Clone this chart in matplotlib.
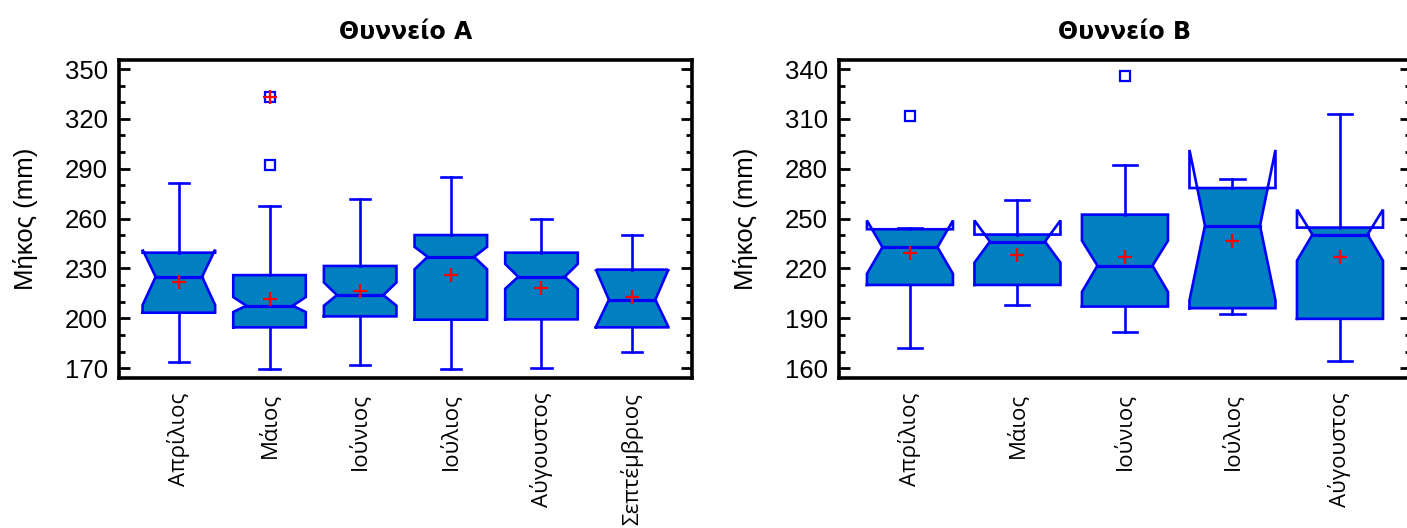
import numpy as np
import matplotlib
matplotlib.use("Agg")
import matplotlib.pyplot as plt
from matplotlib.ticker import MultipleLocator

# ---------------------------------------------------------------------------
# Data
# ---------------------------------------------------------------------------
months_a = ["Απρίλιος", "Μάιος", "Ιούνιος", "Ιούλιος", "Αύγουστος", "Σεπτέμβριος"]
q1_a = [203.4, 194.6, 201.2, 199.2, 199.4, 194.6]
med_a = [225.0, 207.6, 214.0, 237.0, 225.0, 211.2]
q3_a = [239.5, 226.0, 231.5, 250.1, 239.5, 229.3]
whislo_a = [174.0, 169.5, 172.1, 169.5, 170.2, 179.5]
whishi_a = [281.4, 267.6, 271.8, 285.0, 259.7, 250.3]
mean_a = [221.6, 211.8, 216.6, 225.9, 218.2, 213.0]
cilo_a = [208.0, 203.8, 207.6, 229.5, 217.8, 194.8]
cihi_a = [241.3, 212.8, 221.6, 243.0, 232.7, 229.4]
outliers_a = [[], [292.2, 333.4], [], [], [], []]
far_out_a = [[], [333.4], [], [], [], []]

months_b = ["Απρίλιος", "Μάιος", "Ιούνιος", "Ιούλιος", "Αύγουστος"]
q1_b = [210.1, 210.1, 197.1, 196.1, 189.7]
med_b = [232.8, 236.2, 221.7, 245.8, 240.4]
q3_b = [243.6, 240.4, 252.4, 268.4, 244.6]
whislo_b = [172.2, 198.1, 181.8, 192.7, 164.4]
whishi_b = [244.6, 261.0, 282.5, 274.0, 312.9]
mean_b = [229.5, 228.3, 227.1, 236.7, 227.1]
cilo_b = [216.8, 223.5, 205.9, 200.8, 224.7]
cihi_b = [248.9, 248.9, 236.7, 291.3, 255.4]
outliers_b = [[311.7], [], [335.8], [], []]
far_out_b = [[], [], [], [], []]

FILL = "#0080c0"
EDGE = "#0000ff"
BOX_W = 0.8
WAIST = 0.64      # notch waist as fraction of box width
CAP = 0.28        # cap width as fraction of box width
LW = 1.9

plt.rcParams["font.family"] = ["Liberation Sans", "DejaVu Sans"]


def notched_box(ax, x, q1, med, q3, clo, chi, lo, hi, mean):
    bw = BOX_W / 2
    ww = bw * WAIST

    def half_w(y):
        if clo <= y <= med and med > clo:
            return ww + (bw - ww) * (med - y) / (med - clo)
        if med <= y <= chi and chi > med:
            return ww + (bw - ww) * (y - med) / (chi - med)
        return bw

    # filled body: the notch shape cut to [q1, q3]
    ys = sorted(set([q1, med, q3] + [c for c in (clo, chi) if q1 < c < q3]))
    px = [x + half_w(y) for y in ys] + [x - half_w(y) for y in ys[::-1]]
    py = ys + ys[::-1]
    ax.fill(px, py, color=FILL, lw=0, zorder=2)

    # outline, notch flares included
    ox = [x - bw, x + bw, x + bw, x + ww, x + bw, x + bw,
          x - bw, x - bw, x - ww, x - bw, x - bw]
    oy = [q1, q1, clo, med, chi, q3, q3, chi, med, clo, q1]
    ax.plot(ox, oy, color=EDGE, lw=LW, zorder=3, solid_joinstyle="miter")
    ax.plot([x - ww, x + ww], [med, med], color=EDGE, lw=LW + 0.4, zorder=3)

    # whiskers and caps
    cw = BOX_W * CAP / 2
    ax.plot([x, x], [q3, hi], color=EDGE, lw=LW, zorder=3)
    ax.plot([x, x], [q1, lo], color=EDGE, lw=LW, zorder=3)
    ax.plot([x - cw, x + cw], [hi, hi], color=EDGE, lw=LW, zorder=3)
    ax.plot([x - cw, x + cw], [lo, lo], color=EDGE, lw=LW, zorder=3)

    ax.plot([x], [mean], marker="+", color="red", ms=10, mew=1.6, zorder=4)


def panel(ax, title, months, q1, med, q3, lo, hi, mean, clo, chi,
          outliers, far_out, ylim, yticks):
    pos = np.arange(1, len(months) + 1)
    for i, x in enumerate(pos):
        notched_box(ax, x, q1[i], med[i], q3[i], clo[i], chi[i],
                    lo[i], hi[i], mean[i])
        if outliers[i]:
            ax.plot([x] * len(outliers[i]), outliers[i], ls="none", marker="s",
                    ms=6.5, mfc="none", mec=EDGE, mew=1.6, zorder=4)
        if far_out[i]:
            ax.plot([x] * len(far_out[i]), far_out[i], ls="none", marker="+",
                    ms=10, color="red", mew=1.6, zorder=5)

    ax.set_xlim(pos[0] - 0.66, pos[-1] + 0.66)
    ax.set_ylim(*ylim)
    ax.set_yticks(yticks)
    ax.yaxis.set_minor_locator(MultipleLocator(10))
    ax.set_xticks(pos)
    ax.set_xticklabels(months, rotation=90, family=["Open Sans", "DejaVu Sans"],
                       fontsize=16)
    ax.tick_params(axis="x", length=0, pad=11)
    ax.tick_params(axis="y", which="both", direction="in", left=True, right=True,
                   labelsize=18.5, pad=8, width=2)
    ax.tick_params(axis="y", which="major", length=8)
    ax.tick_params(axis="y", which="minor", length=4.5)
    for sp in ax.spines.values():
        sp.set_linewidth(2.6)
    ax.set_ylabel("Μήκος (mm)", fontsize=18.5)
    ax.yaxis.set_label_coords(-0.142, 0.5)
    ax.set_title(title, fontsize=17, fontweight="bold", pad=15,
                 family=["DejaVu Sans"])


fig = plt.figure(figsize=(14.07, 5.28), dpi=100)
ax_a = fig.add_axes([0.0846, 0.285, 0.4072, 0.6013])
ax_b = fig.add_axes([0.5963, 0.285, 0.4065, 0.6013])

panel(ax_a, "Θυννείο A", months_a, q1_a, med_a, q3_a, whislo_a, whishi_a,
      mean_a, cilo_a, cihi_a, outliers_a, far_out_a,
      (164.4, 355.4), np.arange(170, 351, 30))
panel(ax_b, "Θυννείο B", months_b, q1_b, med_b, q3_b, whislo_b, whishi_b,
      mean_b, cilo_b, cihi_b, outliers_b, far_out_b,
      (154.4, 345.4), np.arange(160, 341, 30))

fig.savefig("out.png", dpi=100)
